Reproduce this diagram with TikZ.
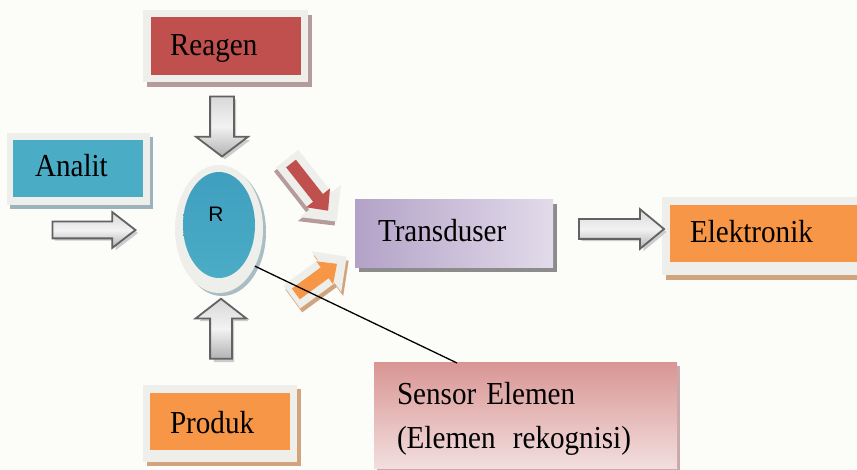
\documentclass[tikz,border=0pt]{standalone}
\usepackage{fontspec}
\setmainfont{Liberation Serif}
\newfontfamily\arialf{Liberation Sans}
\usetikzlibrary{shapes.arrows,shapes.geometric}
\definecolor{bgc}{HTML}{FCFCF9}
\definecolor{framec}{HTML}{EEEEEB}
\definecolor{redc}{HTML}{BF504D}
\definecolor{cyanc}{HTML}{4BACC6}
\definecolor{cyand}{HTML}{3F9FBE}
\definecolor{orangec}{HTML}{F79646}
\definecolor{purpc}{HTML}{B3A2C7}
\definecolor{purpl}{HTML}{E2DBEA}
\definecolor{pinkc}{HTML}{D99694}
\definecolor{pinkl}{HTML}{F2DEDE}
\definecolor{shredc}{HTML}{B59B9B}
\definecolor{shbluec}{HTML}{9DB3BB}
\definecolor{shtanc}{HTML}{D2A47E}
\definecolor{shgrayc}{HTML}{8C8C8C}
\definecolor{shpinkc}{HTML}{C9A9A9}
\definecolor{shellc}{HTML}{A9BDC3}
\definecolor{arrowedge}{HTML}{626262}
\tikzset{
  arrowshape/.style n args={4}{single arrow, minimum height=#1, inner xsep=0pt,
    inner ysep=#2, single arrow head extend=#3, single arrow tip angle=#4,
    single arrow head indent=0pt},
  garrow/.style={draw=arrowedge, line width=1.8pt, top color=gray!30,
    bottom color=gray!60, middle color=white!90!gray},
  plate/.style={rectangle, fill=framec, draw=none},
  txt/.style={font=\fontsize{32}{38}\selectfont, anchor=base west, inner sep=0pt, xscale=0.91},
}
\newcommand\blockarrow[8]{%
  \node[arrowshape={#5}{#6}{#7}{#8}, fill=gray!40, rotate=#4] (#1s) at (#2+3,#3+3) {};
  \node[arrowshape={#5}{#6}{#7}{#8}, garrow, rotate=#4] (#1) at (#2,#3) {};
}
\begin{document}
\begin{tikzpicture}[x=1pt,y=-1pt,every node/.style={inner sep=0pt,outer sep=0pt}]
\useasboundingbox (0,0) rectangle (857,470);
\fill[bgc] (0,0) rectangle (857,470);

% Reagen
\node[plate, fill=shredc, minimum width=165pt, minimum height=72pt] (reagensh) at (229.5,51) {};
\node[plate, minimum width=165pt, minimum height=72pt] (reagenfr) at (225.5,46) {};
\node[rectangle, fill=redc, minimum width=150pt, minimum height=58pt] (reagen) at (226,46) {};
\node[txt] (reagent) at (170,56) {Reagen};

% Analit
\node[plate, fill=shbluec, minimum width=143pt, minimum height=72pt] (analitsh) at (81.5,173) {};
\node[plate, minimum width=143pt, minimum height=72pt] (analitfr) at (78.5,169) {};
\node[rectangle, fill=cyanc, minimum width=130pt, minimum height=57pt] (analit) at (78,168.5) {};
\node[txt] (analitt) at (35,177) {Analit};

% Produk
\node[plate, fill=shtanc, minimum width=154pt, minimum height=77pt] (produksh) at (224,427.5) {};
\node[plate, minimum width=154pt, minimum height=77pt] (produkfr) at (220,423.5) {};
\node[rectangle, fill=orangec, minimum width=140pt, minimum height=57pt] (produk) at (220,421.5) {};
\node[txt] (produkt) at (170,433) {Produk};

% Elektronik
\node[plate, fill=shtanc, minimum width=208pt, minimum height=78pt] (elektroniksh) at (770,241) {};
\node[plate, minimum width=208pt, minimum height=78pt] (elektronikfr) at (766,236) {};
\node[rectangle, fill=orangec, minimum width=200pt, minimum height=57pt] (elektronik) at (770,233.5) {};
\node[txt] (elektronikt) at (690,243) {Elektronik};

% Transduser
\node[rectangle, fill=shgrayc, minimum width=198pt, minimum height=68pt] (transdusersh) at (458,238) {};
\node[rectangle, left color=purpc, right color=purpl, minimum width=198pt, minimum height=68pt] (transduser) at (454,234) {};
\node[txt] (transdusert) at (378,242) {Transduser};

% Sensor Elemen
\node[rectangle, fill=shpinkc, minimum width=303pt, minimum height=105pt] (sensorsh) at (528.5,418.5) {};
\node[rectangle, top color=pinkc, bottom color=pinkl, minimum width=303pt, minimum height=105pt] (sensor) at (525.5,415.5) {};
\node[txt] (sensort1) at (397,404) {Sensor\hspace{3pt} Elemen};
\node[txt] (sensort2) at (397,448) {(Elemen\hspace{11pt} rekognisi)};

% Ellipse R
\node[ellipse, fill=shellc, minimum width=88pt, minimum height=128pt] (rsh) at (222,232) {};
\node[ellipse, fill=framec, minimum width=88pt, minimum height=128pt] (rframe) at (219,229) {};
\node[ellipse, top color=cyand, bottom color=cyanc, minimum width=72pt, minimum height=106pt] (r) at (219,225) {};
\node[font=\arialf\fontsize{21}{25}\selectfont] (rt) at (216,214.5) {R};

% gray block arrows
\blockarrow{aan}{88.5}{230}{0}{83pt}{7.5pt}{9.5pt}{75.4}
\blockarrow{are}{222}{122}{-90}{60pt}{11pt}{14pt}{105.5}
\blockarrow{apr}{221}{333}{90}{60pt}{10pt}{14.5pt}{104.4}
\blockarrow{atr}{615.5}{229}{0}{85pt}{9pt}{10pt}{79.1}

% red diagonal arrow
\node[arrowshape={80pt}{14pt}{12pt}{90}, fill=shredc, rotate=-51.8] (redsh) at (305.5,188.5) {};
\node[arrowshape={80pt}{14pt}{12pt}{90}, fill=framec, rotate=-51.8] (redfr) at (307.5,184.5) {};
\node[arrowshape={60pt}{6pt}{9pt}{86}, fill=redc, rotate=-51.8] (redar) at (307.5,184.5) {};

% orange diagonal arrow
\node[arrowshape={68pt}{14pt}{11pt}{90}, fill=shtanc, rotate=36.2] (orsh) at (315.5,285) {};
\node[arrowshape={68pt}{14pt}{11pt}{90}, fill=framec, rotate=36.2] (orfr) at (313.5,281) {};
\node[arrowshape={51pt}{6.5pt}{7.5pt}{86}, fill=orangec, rotate=36.2] (orar) at (313.5,281) {};

% connector
\draw[line width=1.3pt] (rframe.-46) -- ([xshift=-68.5pt]sensor.north);
\end{tikzpicture}
\end{document}
